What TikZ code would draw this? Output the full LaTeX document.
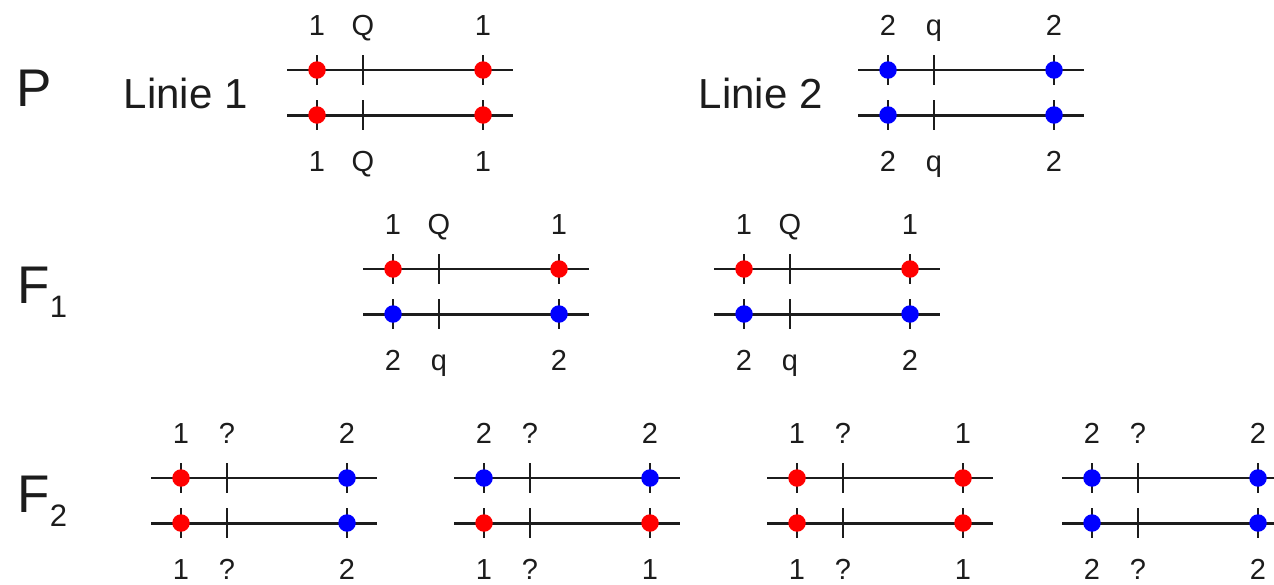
\documentclass[tikz,border=0pt]{standalone}
\usepackage{fontspec}
\setmainfont{Liberation Sans}
\definecolor{ink}{RGB}{28,28,28}
\definecolor{col1}{RGB}{255,0,0}
\definecolor{col2}{RGB}{0,0,255}
\tikzset{
  topline/.style={draw=ink, line width=2pt},
  botline/.style={draw=ink, line width=3pt},
  tickmark/.style={draw=ink, line width=2.3pt},
  dotnode/.style={circle, inner sep=0pt, minimum size=17.5pt, draw=none},
  num/.style={font=\fontsize{29}{31}\selectfont, text=ink, anchor=base, inner sep=0pt},
  rowlabel/.style={font=\fontsize{53}{56}\selectfont, text=ink, anchor=base west, inner sep=0pt},
  linie/.style={font=\fontsize{42}{44}\selectfont, text=ink, anchor=base west, inner sep=0pt},
}
% #1 name, #2 x start, #3 y of top line, #4 top-left, #5 top-right, #6 bottom-left, #7 bottom-right, #8 top mid label, #9 bottom mid label
\newcommand\blk[9]{%
  \coordinate (#1-ta) at (#2,#3);
  \coordinate (#1-tb) at (#2+226,#3);
  \coordinate (#1-ba) at (#2,#3+45);
  \coordinate (#1-bb) at (#2+226,#3+45);
  \draw[topline] (#1-ta) -- (#1-tb);
  \draw[botline] (#1-ba) -- (#1-bb);
  \foreach \dx in {30,76,196} {
    \draw[tickmark] (#2+\dx,#3-15) -- (#2+\dx,#3+15);
    \draw[tickmark] (#2+\dx,#3+30) -- (#2+\dx,#3+60);
  }
  \node[dotnode, fill=col#4] (#1-tl) at (#2+30,#3) {};
  \node[dotnode, fill=col#5] (#1-tr) at (#2+196,#3) {};
  \node[dotnode, fill=col#6] (#1-bl) at (#2+30,#3+45) {};
  \node[dotnode, fill=col#7] (#1-br) at (#2+196,#3+45) {};
  \node[num] (#1-ltl) at (#2+30,#3-35) {#4};
  \node[num] (#1-ltm) at (#2+76,#3-35) {#8};
  \node[num] (#1-ltr) at (#2+196,#3-35) {#5};
  \node[num] (#1-lbl) at (#2+30,#3+101) {#6};
  \node[num] (#1-lbm) at (#2+76,#3+101) {#9};
  \node[num] (#1-lbr) at (#2+196,#3+101) {#7};
}
\begin{document}
\begin{tikzpicture}[x=1pt,y=-1pt]
  \useasboundingbox (0,0) rectangle (1274,584);
  \clip (0,0) rectangle (1274,584);
  % row labels
  \node[rowlabel] (rowP) at (16.5,106) {P};
  \node[rowlabel] (rowF1) at (17.4,303) {F\raisebox{-14pt}{\fontsize{31}{32}\selectfont 1}};
  \node[rowlabel] (rowF2) at (17.4,512) {F\raisebox{-14pt}{\fontsize{31}{32}\selectfont 2}};
  \node[linie] (lin1) at (123.6,108) {Linie 1};
  \node[linie] (lin2) at (698.6,108) {Linie 2};
  % P row
  \blk{pa}{287}{70}{1}{1}{1}{1}{Q}{Q}
  \blk{pb}{858}{70}{2}{2}{2}{2}{q}{q}
  % F1 row
  \blk{fa}{363}{269}{1}{1}{2}{2}{Q}{q}
  \blk{fb}{714}{269}{1}{1}{2}{2}{Q}{q}
  % F2 row
  \blk{ga}{151}{478}{1}{2}{1}{2}{?}{?}
  \blk{gb}{454}{478}{2}{2}{1}{1}{?}{?}
  \blk{gc}{767}{478}{1}{1}{1}{1}{?}{?}
  \blk{gd}{1062}{478}{2}{2}{2}{2}{?}{?}
\end{tikzpicture}
\end{document}
